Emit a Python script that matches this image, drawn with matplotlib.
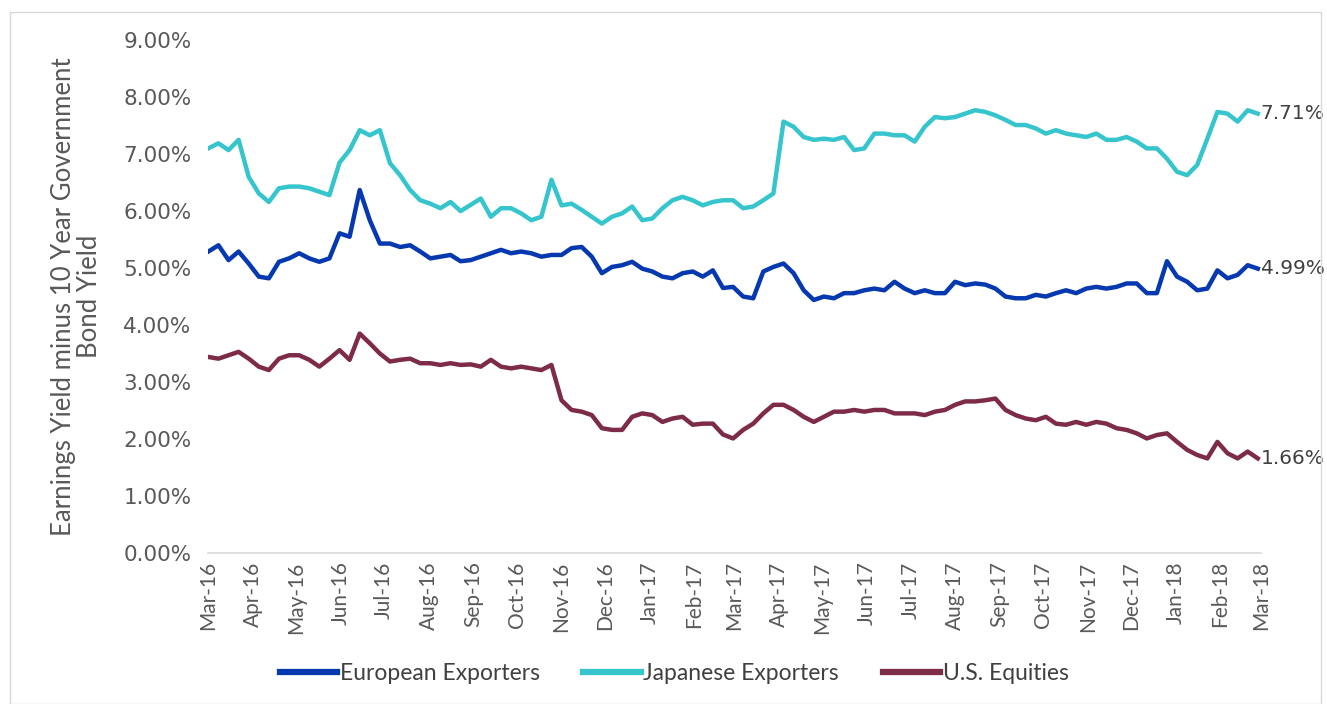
import numpy as np
import pandas as pd
import matplotlib
matplotlib.use("Agg")
import matplotlib.pyplot as plt
import matplotlib.dates as mdates
from matplotlib.ticker import FuncFormatter
from matplotlib.patches import Rectangle

# weekly readings, Mar-2016 .. Feb-2018 (values in %)
dates = pd.date_range("2016-03-01", periods=105, freq="7D")

european = [5.29, 5.40, 5.14, 5.29, 5.08, 4.85, 4.82, 5.11, 5.17, 5.26,
            5.17, 5.11, 5.17, 5.61, 5.55, 6.37, 5.84, 5.43, 5.43, 5.37,
            5.40, 5.29, 5.17, 5.20, 5.23, 5.12, 5.14, 5.20, 5.26, 5.32,
            5.26, 5.29, 5.26, 5.20, 5.23, 5.23, 5.35, 5.37, 5.20, 4.91,
            5.02, 5.05, 5.11, 4.99, 4.94, 4.85, 4.82, 4.91, 4.94, 4.85,
            4.96, 4.65, 4.67, 4.50, 4.47, 4.94, 5.02, 5.08, 4.91, 4.61,
            4.44, 4.50, 4.47, 4.56, 4.56, 4.61, 4.64, 4.61, 4.76, 4.64,
            4.56, 4.61, 4.56, 4.56, 4.76, 4.70, 4.73, 4.71, 4.64, 4.50,
            4.47, 4.47, 4.53, 4.50, 4.56, 4.61, 4.56, 4.64, 4.67, 4.64,
            4.67, 4.73, 4.73, 4.56, 4.56, 5.12, 4.85, 4.76, 4.61, 4.64,
            4.96, 4.82, 4.88, 5.05, 4.99]

japanese = [7.10, 7.19, 7.07, 7.25, 6.60, 6.31, 6.16, 6.40, 6.43, 6.43,
            6.40, 6.34, 6.28, 6.85, 7.07, 7.42, 7.33, 7.42, 6.84, 6.63,
            6.37, 6.19, 6.13, 6.05, 6.16, 6.00, 6.11, 6.22, 5.90, 6.05,
            6.05, 5.96, 5.84, 5.90, 6.55, 6.10, 6.13, 6.02, 5.90, 5.78,
            5.90, 5.96, 6.08, 5.84, 5.87, 6.05, 6.19, 6.25, 6.19, 6.10,
            6.16, 6.19, 6.19, 6.05, 6.08, 6.19, 6.31, 7.57, 7.48, 7.30,
            7.25, 7.27, 7.25, 7.30, 7.07, 7.10, 7.36, 7.36, 7.33, 7.33,
            7.22, 7.48, 7.65, 7.63, 7.65, 7.71, 7.77, 7.74, 7.68, 7.60,
            7.51, 7.51, 7.45, 7.36, 7.42, 7.36, 7.33, 7.30, 7.36, 7.25,
            7.25, 7.30, 7.22, 7.10, 7.10, 6.92, 6.69, 6.63, 6.81, 7.27,
            7.74, 7.71, 7.57, 7.77, 7.71]

us_equities = [3.44, 3.41, 3.47, 3.53, 3.41, 3.27, 3.21, 3.41, 3.47, 3.47,
               3.39, 3.27, 3.41, 3.56, 3.39, 3.85, 3.68, 3.50, 3.36, 3.39,
               3.41, 3.33, 3.33, 3.30, 3.33, 3.30, 3.31, 3.27, 3.39, 3.27,
               3.24, 3.27, 3.24, 3.21, 3.30, 2.68, 2.51, 2.48, 2.42, 2.19,
               2.16, 2.16, 2.39, 2.45, 2.42, 2.30, 2.36, 2.39, 2.25, 2.27,
               2.27, 2.08, 2.01, 2.16, 2.27, 2.45, 2.60, 2.60, 2.51, 2.39,
               2.30, 2.39, 2.48, 2.48, 2.51, 2.48, 2.51, 2.51, 2.45, 2.45,
               2.45, 2.42, 2.48, 2.51, 2.60, 2.66, 2.66, 2.68, 2.71, 2.51,
               2.42, 2.36, 2.33, 2.39, 2.27, 2.25, 2.30, 2.25, 2.30, 2.27,
               2.19, 2.16, 2.10, 2.01, 2.07, 2.10, 1.95, 1.81, 1.72, 1.66,
               1.95, 1.75, 1.66, 1.78, 1.66]

names = ["European Exporters", "Japanese Exporters", "U.S. Equities"]
colors = ["#0638b0", "#36c5cc", "#7e2b4a"]
series = [european, japanese, us_equities]

fig = plt.figure(figsize=(13.27, 7.04), dpi=100)
ax = fig.add_axes([0.157, 0.2145, 0.793, 0.7285])

for vals, name, c in zip(series, names, colors):
    ax.plot(dates, vals, color=c, lw=3.2, label=name, solid_joinstyle="round")
    ax.text(dates[-1] + pd.Timedelta(days=2), vals[-1], f"{vals[-1]:.2f}%",
            va="center", ha="left", fontsize=14.5, color="#404040",
            family="DejaVu Sans")

ax.set_ylim(0, 9)
ax.set_yticks(np.arange(0, 10, 1))
ax.yaxis.set_major_formatter(FuncFormatter(lambda v, p: f"{v:.2f}%"))
ax.set_xlim(pd.Timestamp("2016-03-01"), pd.Timestamp("2018-03-01"))
ax.xaxis.set_major_locator(mdates.MonthLocator())
ax.xaxis.set_major_formatter(mdates.DateFormatter("%b-%y"))

for s in ["top", "right", "left"]:
    ax.spines[s].set_visible(False)
ax.spines["bottom"].set_color("#d9d9d9")
ax.spines["bottom"].set_linewidth(1.2)

ax.tick_params(axis="y", length=0, pad=12, labelsize=15.5, labelcolor="#595959")
ax.tick_params(axis="x", length=0, pad=6, labelsize=15, labelcolor="#595959",
               labelrotation=90)
for lbl in ax.get_yticklabels():
    lbl.set_family("DejaVu Sans")
for lbl in ax.get_xticklabels():
    lbl.set_family("Lato")

ax.set_ylabel("Earnings Yield minus 10 Year Government\nBond Yield",
              fontsize=18.5, color="#595959", family="Lato", linespacing=1.05)
ax.yaxis.set_label_coords(-0.101, 0.5)

leg = fig.legend(loc="center", bbox_to_anchor=(0.508, 0.043), ncol=3,
                 frameon=False, handlelength=2.5, handletextpad=0.12,
                 columnspacing=1.9,
                 prop={"family": "Lato", "size": 16.5})
for t in leg.get_texts():
    t.set_color("#404040")
for h in leg.get_lines():
    h.set_linewidth(4.5)

fig.patches.append(Rectangle((0.0075, 0.0), 0.988, 0.983, transform=fig.transFigure,
                             fill=False, edgecolor="#d9d9d9", lw=1.0))

fig.savefig("out.png", dpi=100)
